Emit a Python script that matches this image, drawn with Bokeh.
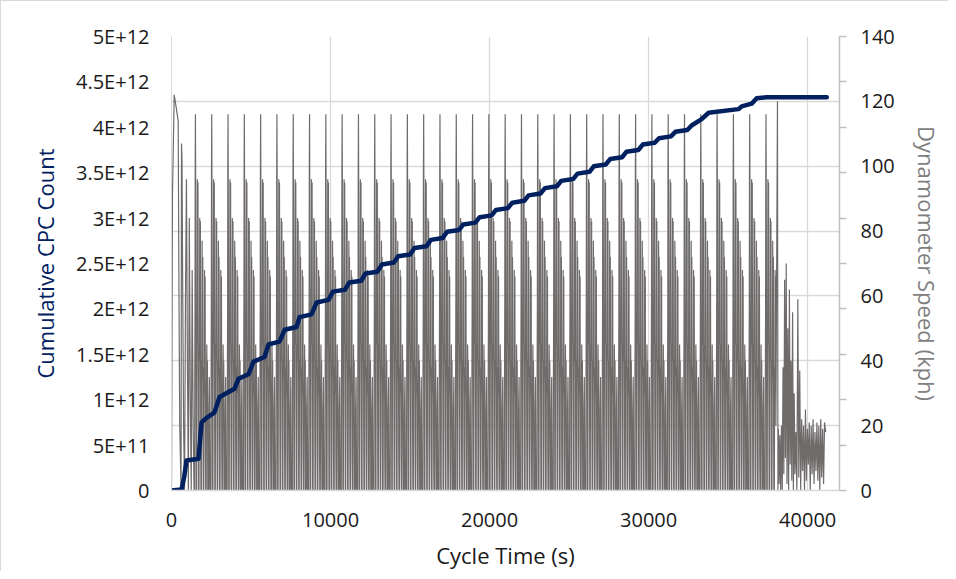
import numpy as np
from bokeh.plotting import figure
from bokeh.models import Range1d, LinearAxis, FixedTicker, Grid
from bokeh.embed import file_html
from bokeh.resources import INLINE

# ---------------- data ----------------
x_ticks = [0, 10000, 20000, 30000, 40000]
cpc_ticks = [0, 5e11, 1e12, 1.5e12, 2e12, 2.5e12, 3e12, 3.5e12, 4e12, 4.5e12, 5e12]
cpc_tick_labels = ["0", "5E+11", "1E+12", "1.5E+12", "2E+12", "2.5E+12", "3E+12",
                   "3.5E+12", "4E+12", "4.5E+12", "5E+12"]
speed_ticks = [0, 20, 40, 60, 80, 100, 120, 140]
speed_minor_ticks = [0, 14, 28, 42, 56, 70, 84, 98, 112, 126, 140]

# cumulative CPC count
cpc_time_s = [0, 630, 800, 940, 1700, 1890, 2140, 2700, 3020, 3960, 4210, 4840, 5160,
              5850, 6100, 6790, 7110, 7860, 8050, 8800, 9120, 9870, 10150, 10900, 11180,
              11930, 12200, 12950, 13230, 13980, 14250, 15000, 15280, 16030, 16300, 17050,
              17330, 18080, 18350, 19100, 19380, 20130, 20400, 21150, 21430, 22180, 22450,
              23200, 23480, 24230, 24500, 25250, 25530, 26280, 26550, 27300, 27580, 28330,
              28600, 29350, 29630, 30380, 30650, 31400, 31680, 32430, 32700, 33333, 33770,
              35640, 35850, 36480, 36790, 37400, 41200]
cpc_count = [0, 1.1e10, 1.5e11, 3.3e11, 3.5e11, 7.5e11, 7.9e11, 8.6e11, 1.03e12, 1.12e12,
             1.23e12, 1.28e12, 1.42e12, 1.47e12, 1.61e12, 1.64e12, 1.77e12, 1.80e12, 1.91e12,
             1.94e12, 2.07e12, 2.10e12, 2.19e12, 2.21e12, 2.29e12, 2.31e12, 2.39e12, 2.41e12,
             2.49e12, 2.51e12, 2.58e12, 2.60e12, 2.67e12, 2.69e12, 2.76e12, 2.78e12, 2.85e12,
             2.87e12, 2.93e12, 2.95e12, 3.01e12, 3.03e12, 3.09e12, 3.11e12, 3.17e12, 3.19e12,
             3.25e12, 3.27e12, 3.33e12, 3.35e12, 3.41e12, 3.43e12, 3.49e12, 3.51e12, 3.57e12,
             3.59e12, 3.65e12, 3.67e12, 3.73e12, 3.75e12, 3.81e12, 3.83e12, 3.88e12, 3.90e12,
             3.95e12, 3.97e12, 4.02e12, 4.09e12, 4.16e12, 4.20e12, 4.23e12, 4.26e12, 4.32e12,
             4.33e12, 4.33e12]

# dynamometer speed: initial warm-up, the repeated drive cycle, the final part
initial_time_s = [0, 60, 170, 300, 420, 470, 520, 600, 630, 660, 700, 760, 820, 880, 940,
                  1000, 1060, 1120, 1180, 1240, 1300, 1360, 1420]
initial_speed_kph = [0, 91, 122, 118, 114, 60, 20, 0, 107, 102, 66, 20, 0, 60, 96, 40, 0,
                     84, 30, 0, 68, 20, 0]

cycle_offset_s = [0, 15, 30, 40, 55, 65, 75, 90, 100,
                  130, 140, 150, 160, 175, 185, 195, 215, 225, 235, 250,
                  280, 290, 300, 310, 325, 345, 365, 375, 385, 400,
                  430, 440, 450, 460, 475, 495, 515, 525, 535, 550,
                  580, 590, 600, 610, 625, 645, 665, 675, 685, 700,
                  730, 750, 770, 790, 810, 830,
                  880, 900, 930, 960, 1000]
cycle_speed_kph = [0, 35, 60, 98, 116, 100, 80, 45, 0,
                   0, 30, 50, 45, 96, 70, 62, 95, 60, 30, 0,
                   0, 30, 45, 40, 84, 50, 83, 55, 20, 0,
                   0, 25, 40, 35, 77, 45, 72, 40, 15, 0,
                   0, 25, 38, 30, 68, 40, 66, 35, 10, 0,
                   0, 30, 45, 25, 40, 0,
                   0, 25, 35, 0, 0]
cycle_start_s = [1450, 2475, 3500, 4525, 5550, 6575, 7600, 8625, 9650, 10675, 11700, 12725,
                 13750, 14775, 15800, 16825, 17850, 18875, 19900, 20925, 21950, 22975,
                 24000, 25025, 26050, 27075, 28100, 29125, 30150, 31175, 32200, 33225,
                 34250, 35275, 36300, 37325]

final_time_s = [38000, 38100, 38130, 38160, 38200, 38250, 38300, 38350, 38400, 38450,
                38500, 38550, 38600, 38650, 38700, 38750, 38800, 38850, 38900, 38950,
                39000, 39050, 39100, 39150, 39200, 39260, 39320, 39380, 39440, 39500,
                39560, 39620, 39680, 39740, 39800, 39860, 39920, 39980, 40040, 40100,
                40160, 40220, 40280, 40340, 40400, 40460, 40520, 40580, 40640, 40700,
                40760, 40820, 40880, 40940, 41000, 41060, 41130]
final_speed_kph = [20, 120, 0, 19, 2, 17, 0, 20, 0, 38, 5, 65, 10, 70, 2, 50, 0, 62, 8,
                   40, 3, 55, 0, 30, 5, 18, 0, 59, 4, 37, 0, 22, 6, 20, 0, 25, 3, 19, 8,
                   21, 0, 20, 5, 22, 2, 18, 6, 21, 3, 20, 0, 22, 4, 19, 2, 21, 18]

# ---------------- build ----------------
speed_t = list(initial_time_s)
speed_v = list(initial_speed_kph)
for start in cycle_start_s:
    for o, v in zip(cycle_offset_s, cycle_speed_kph):
        if start + o < final_time_s[0]:
            speed_t.append(start + o)
            speed_v.append(v)
speed_t += final_time_s
speed_v += final_speed_kph

FONT = "Open Sans"
GRID = "#d9d9d9"

p = figure(width=948, height=571, output_backend="svg", toolbar_location=None,
           x_range=Range1d(0, 42000), y_range=Range1d(0, 5e12),
           min_border_left=170, min_border_right=110, min_border_top=35,
           min_border_bottom=79)
p.outline_line_color = None
p.background_fill_color = "white"
p.border_fill_color = "white"

p.extra_y_ranges = {"speed": Range1d(0, 140)}

# grids
p.xgrid.ticker = FixedTicker(ticks=x_ticks)
p.xgrid.grid_line_color = GRID
p.xgrid.grid_line_width = 1.3
p.ygrid.visible = False
sgrid = Grid(dimension=1, ticker=FixedTicker(ticks=speed_ticks), y_range_name="speed",
             grid_line_color=GRID, grid_line_width=1.3)
p.add_layout(sgrid)

# x axis
xa = p.xaxis[0]
xa.ticker = FixedTicker(ticks=x_ticks)
xa.axis_label = "Cycle Time (s)"
xa.axis_line_color = GRID
xa.axis_line_width = 1.3
xa.major_tick_out = 0
xa.major_tick_in = 0
xa.minor_tick_out = 0
xa.major_label_standoff = 22
xa.axis_label_standoff = 10

# left axis
ya = p.yaxis[0]
ya.ticker = FixedTicker(ticks=cpc_ticks)
ya.major_label_overrides = {t: l for t, l in zip(cpc_ticks, cpc_tick_labels)}
ya.axis_label = "Cumulative CPC Count"
ya.axis_line_color = GRID
ya.major_tick_out = 0
ya.major_tick_in = 0
ya.minor_tick_out = 0
ya.major_label_standoff = 22
ya.axis_label_standoff = 13
ya.axis_label_text_color = "#002060"

# right axis
ra = LinearAxis(y_range_name="speed",
                ticker=FixedTicker(ticks=speed_ticks, minor_ticks=speed_minor_ticks))
ra.axis_label = "Dynamometer Speed (kph)"
ra.axis_line_color = "#bfbfbf"
ra.axis_line_width = 1.5
ra.major_tick_out = 0
ra.major_tick_in = 0
ra.minor_tick_out = 7
ra.minor_tick_in = 0
ra.minor_tick_line_color = "#bfbfbf"
ra.minor_tick_line_width = 1.5
ra.major_label_standoff = 14
ra.axis_label_standoff = 14
ra.axis_label_text_color = "#7f7f7f"
p.add_layout(ra, "right")

for ax in (xa, ya, ra):
    ax.major_label_text_font = FONT
    ax.major_label_text_font_size = "20px"
    ax.major_label_text_color = "#1a1a1a"
    ax.axis_label_text_font = FONT
    ax.axis_label_text_font_size = "22px"
    ax.axis_label_text_font_style = "normal"
xa.axis_label_text_color = "#1a1a1a"

p.line(speed_t, speed_v, y_range_name="speed", line_color="#6f6b6b", line_width=1.2)
p.line(cpc_time_s, cpc_count, line_color="#002060", line_width=4.5, line_join="round",
       line_cap="round")

p.styles = {"border-left": "1.5px solid #d9d9d9", "border-top": "1.5px solid #d9d9d9"}

open("out.html", "w").write(file_html(p, INLINE))
